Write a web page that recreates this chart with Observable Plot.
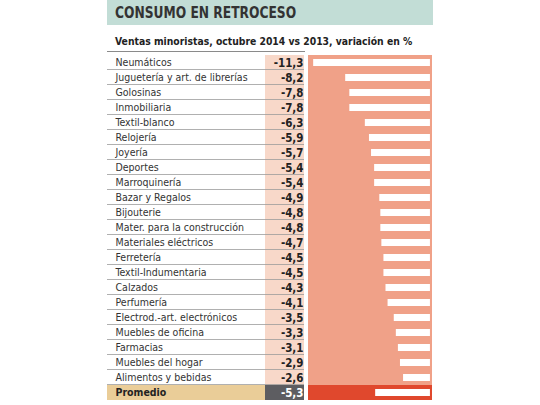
<!DOCTYPE html>
<html>
<head>
<meta charset="utf-8">
<script src="https://cdn.jsdelivr.net/npm/d3@7"></script>
<script src="https://cdn.jsdelivr.net/npm/@observablehq/plot@0.6"></script>
<style>
  html, body { margin: 0; padding: 0; background: #ffffff; }
  body { width: 540px; height: 405px; overflow: hidden; font-family: "Liberation Sans Narrow", "DejaVu Sans Condensed", "Roboto Condensed", sans-serif; }
  #title { margin-left: 107px; width: 326px; height: 25px; box-sizing: border-box; background: #c2ddd6;
           padding-left: 8px; font-weight: bold; font-size: 15.5px; line-height: 27px; color: #333333; white-space: nowrap; }
  #title span { display: inline-block; transform: scaleX(0.88); transform-origin: left center; }
  #sub { margin-left: 107px; width: 198px; height: 27px; box-sizing: border-box; border-bottom: 1px solid #8a8a8a;
         padding-left: 8px; padding-top: 9px; font-weight: bold; font-size: 10.3px; line-height: 14px; color: #222222; white-space: nowrap; }
  #chart svg { display: block; }
</style>
</head>
<body>
<div id="title"><span>CONSUMO EN RETROCESO</span></div>
<div id="sub">Ventas minoristas, octubre 2014 vs 2013, variación en %</div>
<div id="chart"></div>
<script>
const categories = [
  "Neumáticos", "Juguetería y art. de librerías", "Golosinas", "Inmobiliaria", "Textil-blanco",
  "Relojería", "Joyería", "Deportes", "Marroquinería", "Bazar y Regalos", "Bijouterie",
  "Mater. para la construcción", "Materiales eléctricos", "Ferretería", "Textil-Indumentaria",
  "Calzados", "Perfumería", "Electrod.-art. electrónicos", "Muebles de oficina", "Farmacias",
  "Muebles del hogar", "Alimentos y bebidas"
];
const values = [
  -11.3, -8.2, -7.8, -7.8, -6.3, -5.9, -5.7, -5.4, -5.4, -4.9, -4.8,
  -4.8, -4.7, -4.5, -4.5, -4.3, -4.1, -3.5, -3.3, -3.1, -2.9, -2.6
];
const averageLabel = "Promedio";
const averageValue = -5.3;

const rows = categories.map((c, i) => ({label: c, value: values[i], avg: false}));
rows.push({label: averageLabel, value: averageValue, avg: true});
const normal = rows.filter(d => !d.avg);
const avg = rows.filter(d => d.avg);

const fmt = v => v.toFixed(1).replace(".", ",");
const font = "'Liberation Sans Narrow', 'DejaVu Sans Condensed', 'Roboto Condensed', sans-serif";

const W = 540, H = 353, mL = 308, mR = 108, mT = 0, mB = 3;
const band = (H - mT - mB) / rows.length;

const chart = Plot.plot({
  width: W,
  height: H,
  marginLeft: mL,
  marginRight: mR,
  marginTop: mT,
  marginBottom: mB,
  style: {fontFamily: font, background: "white"},
  x: {domain: [-11.8, 0.2], axis: null},
  y: {domain: rows.map(d => d.label), padding: 0, axis: null},
  marks: [
    // bar panel background
    Plot.cell(normal, {y: "label", fill: "#f0a188", inset: 0}),
    Plot.cell(avg, {y: "label", fill: "#e0482d", inset: 0}),
    // value column background
    Plot.cell(normal, {y: "label", fill: "#f8d8c9", insetLeft: -43, insetRight: 128, insetTop: 0, insetBottom: 0}),
    Plot.cell(avg, {y: "label", fill: "#5d5d61", insetLeft: -43, insetRight: 128, insetTop: 0, insetBottom: 0}),
    // label column background for average
    Plot.cell(avg, {y: "label", fill: "#eacd98", insetLeft: -201, insetRight: 167, insetTop: 0, insetBottom: 0}),
    // row separators
    Plot.cell(normal, {y: "label", fill: "#9a9a9a", insetLeft: -201, insetRight: 128, insetTop: band - 1, insetBottom: 0}),
    // white bars
    Plot.barX(rows, {y: "label", x1: "value", x2: 0, fill: "white", insetTop: 4, insetBottom: 4}),
    // labels
    Plot.text(normal, {y: "label", text: "label", frameAnchor: "left", textAnchor: "start", dx: -193, fontSize: 10.5, fill: "#333333"}),
    Plot.text(avg, {y: "label", text: "label", frameAnchor: "left", textAnchor: "start", dx: -193, fontSize: 10.5, fontWeight: "bold", fill: "#222222"}),
    // values
    Plot.text(normal, {y: "label", text: d => fmt(d.value), frameAnchor: "left", textAnchor: "end", dx: -5, fontSize: 11.5, fontWeight: "bold", fill: "#222222"}),
    Plot.text(avg, {y: "label", text: d => fmt(d.value), frameAnchor: "left", textAnchor: "end", dx: -5, fontSize: 11.5, fontWeight: "bold", fill: "#ffffff"})
  ]
});
document.getElementById("chart").appendChild(chart);
</script>
</body>
</html>
